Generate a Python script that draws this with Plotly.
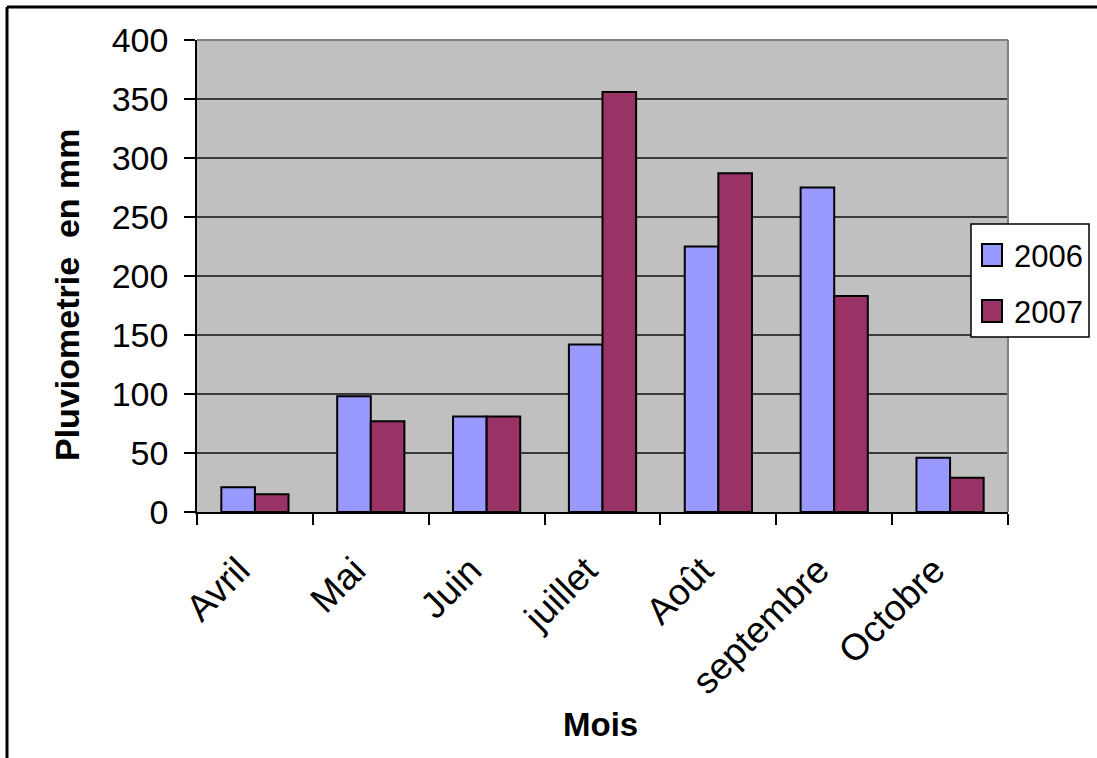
import plotly.graph_objects as go

# Monthly rainfall (mm)
mois = ["Avril", "Mai", "Juin", "juillet", "Août", "septembre", "Octobre"]
pluie_2006 = [21, 98, 81, 142, 225, 275, 46]
pluie_2007 = [15, 77, 81, 356, 287, 183, 29]
y_ticks = [0, 50, 100, 150, 200, 250, 300, 350, 400]

W, H = 1097, 758
L, R, T, B = 197, 1008, 40, 512  # plot area in pixels

FONT = "Liberation Sans, Arial, sans-serif"
C2006 = "#9999FF"
C2007 = "#993366"


def px_x(x):
    return (x - L) / (R - L)


def px_y(y):
    return (B - y) / (B - T)


fig = go.Figure()
fig.add_trace(go.Bar(x=mois, y=pluie_2006, name="2006", marker=dict(color=C2006, line=dict(color="black", width=2))))
fig.add_trace(go.Bar(x=mois, y=pluie_2007, name="2007", marker=dict(color=C2007, line=dict(color="black", width=2))))

shapes = [
    # plot-area frame (top and right)
    dict(type="line", xref="paper", yref="paper", x0=0, x1=1, y0=1, y1=1, line=dict(color="#808080", width=2)),
    dict(type="line", xref="paper", yref="paper", x0=1, x1=1, y0=0, y1=1, line=dict(color="#808080", width=2)),
    # outer chart border (top and left)
    dict(type="line", xref="paper", yref="paper", x0=px_x(7), x1=px_x(1100), y0=px_y(7), y1=px_y(7), line=dict(color="black", width=3)),
    dict(type="line", xref="paper", yref="paper", x0=px_x(7), x1=px_x(7), y0=px_y(7), y1=px_y(765), line=dict(color="black", width=3)),
    # legend box
    dict(type="rect", xref="paper", yref="paper", x0=px_x(971), x1=px_x(1089), y0=px_y(224), y1=px_y(337),
         line=dict(color="black", width=1.5), fillcolor="white"),
    dict(type="rect", xref="paper", yref="paper", x0=px_x(982), x1=px_x(1002), y0=px_y(244), y1=px_y(266),
         line=dict(color="black", width=2), fillcolor=C2006),
    dict(type="rect", xref="paper", yref="paper", x0=px_x(982), x1=px_x(1002), y0=px_y(300), y1=px_y(322),
         line=dict(color="black", width=2), fillcolor=C2007),
]

annotations = [
    dict(text="2006", xref="paper", yref="paper", x=px_x(1012), y=px_y(256), xanchor="left", yanchor="middle",
         showarrow=False, font=dict(family=FONT, size=31, color="black")),
    dict(text="2007", xref="paper", yref="paper", x=px_x(1012), y=px_y(312), xanchor="left", yanchor="middle",
         showarrow=False, font=dict(family=FONT, size=31, color="black")),
    dict(text="<b>Mois</b>", xref="paper", yref="paper", x=px_x(600), y=px_y(724), xanchor="center", yanchor="middle",
         showarrow=False, font=dict(family=FONT, size=33, color="black")),
    dict(text="<b>Pluviometrie  en mm</b>", xref="paper", yref="paper", x=px_x(67), y=px_y(295), xanchor="center",
         yanchor="middle", textangle=-90, showarrow=False, font=dict(family=FONT, size=34, color="black")),
]

fig.update_layout(
    width=W, height=H,
    margin=dict(l=L, r=W - R, t=T, b=H - B, pad=0),
    paper_bgcolor="white",
    plot_bgcolor="#C0C0C0",
    barmode="group",
    bargap=0.42,
    bargroupgap=0,
    showlegend=False,
    font=dict(family=FONT, color="black"),
    shapes=shapes,
    annotations=annotations,
    xaxis=dict(
        type="category", showline=True, linecolor="black", linewidth=1.5,
        ticks="outside", tickson="boundaries", ticklen=11, tickcolor="black", tickwidth=1.5,
        tickangle=-45, tickfont=dict(family=FONT, size=37, color="black"), showgrid=False,
        ticklabelstandoff=20, ticklabelshift=-16,
    ),
    yaxis=dict(
        range=[0, 400], tickvals=y_ticks, showline=True, linecolor="black", linewidth=1.5,
        ticks="outside", ticklen=11, tickcolor="black", tickwidth=1.5,
        tickfont=dict(family=FONT, size=34, color="black"), ticklabelstandoff=9,
        showgrid=True, gridcolor="#3a3a3a", gridwidth=1.5, zeroline=False,
    ),
)

fig.write_html("out.html")
